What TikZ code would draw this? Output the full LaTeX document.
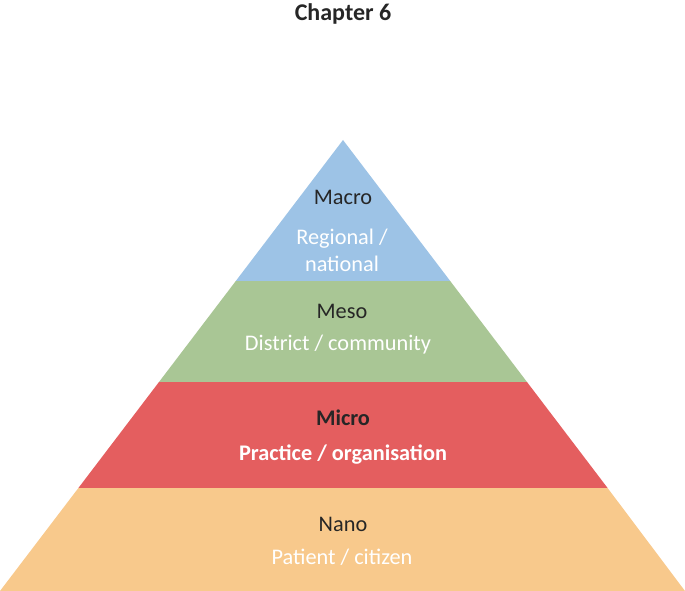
\documentclass[tikz,border=0pt]{standalone}
\usepackage{fontspec}
\setmainfont{Carlito}
\definecolor{cblue}{HTML}{9DC3E6}
\definecolor{cgreen}{HTML}{A9C695}
\definecolor{cred}{HTML}{E45E5F}
\definecolor{corange}{HTML}{F8C98C}
\definecolor{ctext}{HTML}{262626}
\begin{document}
\begin{tikzpicture}[x=1pt,y=-1pt,
  dark/.style={text=ctext,font=\fontsize{22.3}{24}\selectfont,inner sep=0pt,anchor=center},
  light/.style={text=white,font=\fontsize{22.3}{24}\selectfont,inner sep=0pt,anchor=center}]
\useasboundingbox (0,0) rectangle (685,591);
\coordinate (apex) at (343,140);
\fill[cblue] (apex) -- (450.2,281) -- (235.8,281) -- cycle;
\fill[cgreen] (235.8,281) -- (450.2,281) -- (527,382) -- (159,382) -- cycle;
\fill[cred] (159,382) -- (527,382) -- (607.6,488) -- (78.4,488) -- cycle;
\fill[corange] (78.4,488) -- (607.6,488) -- (685,591) -- (0,591) -- cycle;
\node[dark,font=\fontsize{24}{26}\selectfont\bfseries] (title) at (343,14) {Chapter 6};
\node[dark] (macro) at (343,197) {Macro};
\node[light,align=center,font=\fontsize{22.3}{27}\selectfont] (regional) at (342,250) {Regional /\\national};
\node[dark] (meso) at (342,311) {Meso};
\node[light] (district) at (338,345) {District / community};
\node[dark,font=\fontsize{22.3}{24}\selectfont\bfseries] (micro) at (343,418) {Micro};
\node[light,font=\fontsize{22.3}{24}\selectfont\bfseries] (practice) at (343,455) {Practice / organisation};
\node[dark] (nano) at (343,524) {Nano};
\node[light] (patient) at (342,557) {Patient / citizen};
\end{tikzpicture}
\end{document}
